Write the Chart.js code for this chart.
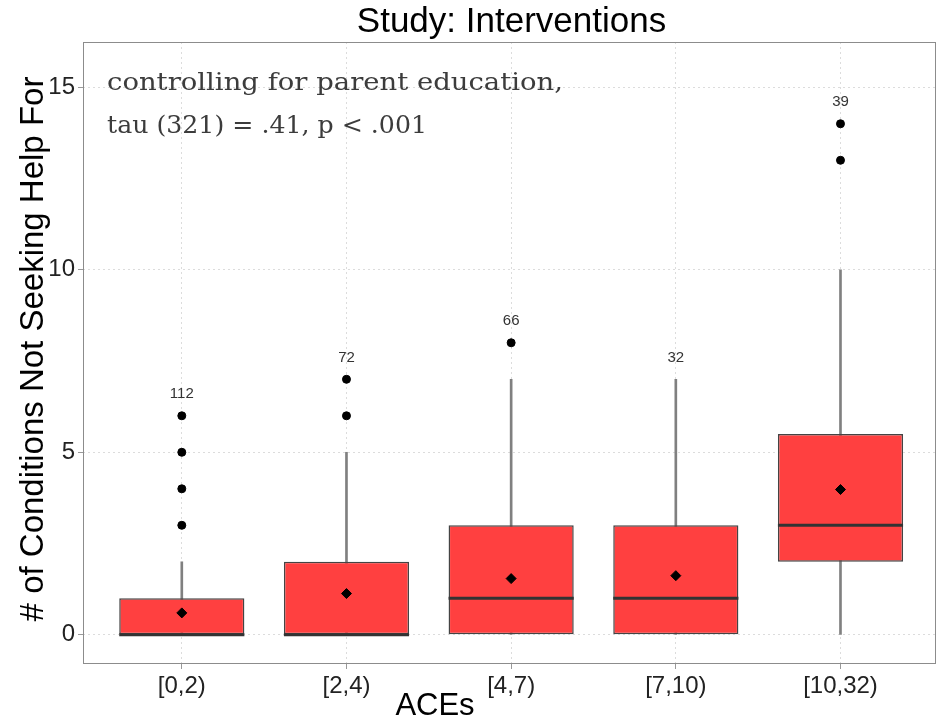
<!DOCTYPE html>
<html>
<head>
<meta charset="utf-8">
<script src="https://cdn.jsdelivr.net/npm/chart.js@4/dist/chart.umd.min.js"></script>
<style>
  html, body { margin: 0; background: #fff; }
  #wrap { width: 944px; height: 723px; }
</style>
</head>
<body>
<div id="wrap"><canvas id="chart" width="944" height="723"></canvas></div>
<script>
// Box plot summary per ACE group
const categories = ['[0,2)', '[2,4)', '[4,7)', '[7,10)', '[10,32)'];
const q1 = [0, 0, 0, 0, 2];
const medians = [0, 0, 1, 1, 3];
const q3 = [1, 2, 3, 3, 5.5];
const whiskerLow = [0, 0, 0, 0, 0];
const whiskerHigh = [2, 5, 7, 7, 10];
const means = [0.6, 1.13, 1.54, 1.62, 3.98];
const outliers = [[3, 4, 5, 6], [6, 7], [8], [], [13, 14]];
const counts = [112, 72, 66, 32, 39];
const yTicks = [0, 5, 10, 15];

const boxColor = '#ff4040';
const ink = '#333333';

// floating bars on a numeric x axis (category i sits at x = i)
const boxData = categories.map((c, i) => ({ x: i, y: [q1[i], q3[i]] }));
const whiskerData = categories.map((c, i) => ({ x: i, y: [whiskerLow[i], whiskerHigh[i]] }));
const outlierPoints = [];
outliers.forEach((vals, i) => vals.forEach(v => outlierPoints.push({ x: i, y: v })));
const meanPoints = categories.map((c, i) => ({ x: i, y: means[i] }));

// medians, counts, panel frame, titles, note
const extras = {
  id: 'extras',
  afterDatasetDraw(chart, args) {
    if (args.index !== 1) return;
    const ctx = chart.ctx;
    const y = chart.scales.y;
    ctx.save();
    ctx.strokeStyle = ink;
    ctx.lineWidth = 3;
    args.meta.data.forEach((bar, i) => {
      const py = y.getPixelForValue(medians[i]);
      ctx.beginPath();
      ctx.moveTo(bar.x - bar.width / 2, py);
      ctx.lineTo(bar.x + bar.width / 2, py);
      ctx.stroke();
    });
    ctx.restore();
  },
  afterDraw(chart) {
    const ctx = chart.ctx;
    const a = chart.chartArea;
    const x = chart.scales.x;
    const y = chart.scales.y;
    ctx.save();
    ctx.strokeStyle = '#8c8c8c';
    ctx.lineWidth = 1;
    ctx.strokeRect(a.left + 0.5, a.top + 0.5, a.right - a.left - 1, a.bottom - a.top - 1);

    // group sizes
    ctx.fillStyle = ink;
    ctx.font = '15px "Liberation Sans"';
    ctx.textAlign = 'center';
    ctx.textBaseline = 'middle';
    categories.forEach((c, i) => {
      const top = Math.max(whiskerHigh[i], ...outliers[i]);
      ctx.fillText(String(counts[i]), x.getPixelForValue(i), y.getPixelForValue(top + 0.6));
    });

    // titles
    ctx.fillStyle = '#000';
    ctx.textBaseline = 'alphabetic';
    ctx.font = '35px "Liberation Sans"';
    ctx.fillText('Study: Interventions', (a.left + a.right) / 2 + 2, 32);
    ctx.font = '31px "Liberation Sans"';
    ctx.fillText('ACEs', 435, 715);
    ctx.save();
    ctx.translate(43, (a.top + a.bottom) / 2 - 4);
    ctx.rotate(-Math.PI / 2);
    ctx.font = '33px "Liberation Sans"';
    ctx.fillText('# of Conditions Not Seeking Help For', 0, 0);
    ctx.restore();

    // note, serif, each line fitted to the width it has in the original
    ctx.fillStyle = '#3c3c3c';
    ctx.font = '25px "DejaVu Serif"';
    ctx.textAlign = 'left';
    const notes = [['controlling for parent education,', 456, 90], ['tau (321) = .41, p < .001', 320, 133]];
    notes.forEach(([txt, w, by]) => {
      ctx.save();
      ctx.translate(107, by);
      ctx.scale(w / ctx.measureText(txt).width, 1);
      ctx.fillText(txt, 0, 0);
      ctx.restore();
    });
    ctx.restore();
  }
};

Chart.defaults.font.family = '"Liberation Sans", Arial, sans-serif';
Chart.defaults.color = '#222';

new Chart(document.getElementById('chart'), {
  type: 'bar',
  data: {
    datasets: [
      {
        label: 'whisker',
        data: whiskerData,
        backgroundColor: '#808080',
        borderWidth: 0,
        barThickness: 2,
        grouped: false,
        order: 3
      },
      {
        label: 'box',
        data: boxData,
        backgroundColor: boxColor,
        borderColor: '#444',
        borderWidth: 1.5,
        borderSkipped: false,
        barPercentage: 0.76,
        categoryPercentage: 1,
        grouped: false,
        order: 2
      },
      {
        type: 'line',
        label: 'outliers',
        data: outlierPoints,
        showLine: false,
        pointStyle: 'circle',
        pointRadius: 4,
        pointBackgroundColor: '#000',
        pointBorderColor: '#000',
        order: 1
      },
      {
        type: 'line',
        label: 'mean',
        data: meanPoints,
        showLine: false,
        pointStyle: 'rectRot',
        pointRadius: 5,
        pointBackgroundColor: '#000',
        pointBorderColor: '#000',
        order: 0
      }
    ]
  },
  options: {
    responsive: false,
    animation: false,
    devicePixelRatio: 1,
    layout: { padding: { top: 42, right: 8, left: 0, bottom: 0 } },
    plugins: { legend: { display: false }, tooltip: { enabled: false }, title: { display: false } },
    scales: {
      x: {
        type: 'linear',
        min: -0.6,
        max: 4.58,
        offset: false,
        grid: { offset: false, color: '#dcdcdc', tickLength: 5, tickColor: '#999' },
        border: { display: false, dash: [2, 3] },
        ticks: {
          color: '#222', font: { size: 24 }, padding: 3, maxRotation: 0,
          callback: v => categories[v]
        },
        afterBuildTicks(s) { s.ticks = categories.map((c, i) => ({ value: i })); },
        afterFit(s) { s.height = 59; }
      },
      y: {
        min: -0.8,
        max: 16.24,
        grid: { color: '#dcdcdc', tickLength: 5, tickColor: '#999' },
        border: { display: false, dash: [2, 3] },
        ticks: { color: '#222', font: { size: 24 }, padding: 3 },
        afterBuildTicks(s) { s.ticks = yTicks.map(v => ({ value: v })); },
        afterFit(s) { s.width = 83; }
      }
    }
  },
  plugins: [extras]
});
</script>
</body>
</html>
